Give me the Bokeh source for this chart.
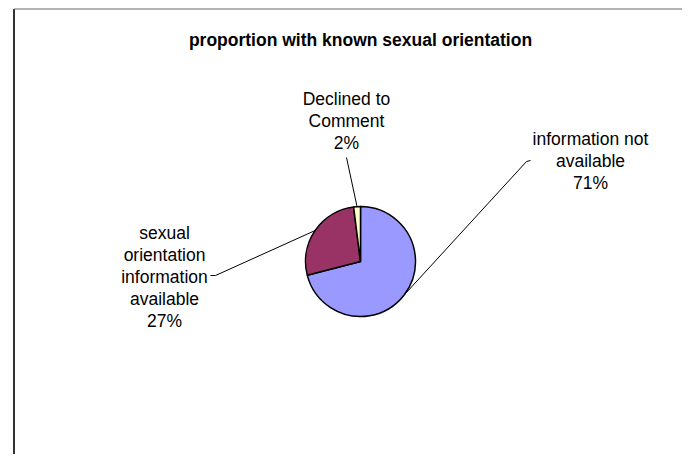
import math
from bokeh.plotting import figure
from bokeh.models import Range1d, ColumnDataSource
from bokeh.core.properties import value
from bokeh.embed import file_html
from bokeh.resources import INLINE

# ---- data ----
title_text = "proportion with known sexual orientation"
categories = ["information not available", "sexual orientation information available", "Declined to Comment"]
label_lines = ["information not\navailable", "sexual\norientation\ninformation\navailable", "Declined to\nComment"]
values = [71, 27, 2]
colors = ["#9999FF", "#993366", "#FFFFCC"]

# ---- layout (page pixel coordinates) ----
W, H = 682, 454
def py(y):  # page y -> data y
    return 462 - y

cx, cy, R = 360, 261, 55
label_pos = [(590, 160), (164, 276), (346, 120.5)]
# leader line elbows / ends (page coords)
leader_pts = [[(526, 161), (530, 160)], [(215, 275), (210, 275)], [(346, 157)]]

p = figure(width=W, height=H, output_backend="svg", toolbar_location=None,
           x_range=Range1d(0, W), y_range=Range1d(462 - H, 462),
           x_axis_location=None, y_axis_location=None, min_border=0,
           tools="")
p.grid.visible = False
p.outline_line_color = None
p.background_fill_color = "white"
p.border_fill_color = "white"

# chart area border (only left and top visible)
p.line(x=[13.5, 13.5], y=[py(462), py(8.5)], line_color="#333333", line_width=2)
p.line(x=[13.5, 690], y=[py(8.5), py(8.5)], line_color="#666666", line_width=1)

# pie
total = float(sum(values))
starts, ends, mids = [], [], []
a = math.pi / 2
for v in values:
    sweep = 2 * math.pi * v / total
    starts.append(a)
    ends.append(a - sweep)
    mids.append(a - sweep / 2)
    a -= sweep

src = ColumnDataSource(dict(x=[cx] * len(values), y=[py(cy)] * len(values),
                            start=starts, end=ends, color=colors, name=categories))
p.wedge(x="x", y="y", radius=R, radius_units="screen", start_angle="start",
        end_angle="end", direction="clock", fill_color="color",
        line_color="black", line_width=1.5, source=src)

# leader lines
for m, pts in zip(mids, leader_pts):
    ex = cx + R * math.cos(m)
    ey = cy - R * math.sin(m)
    xs = [ex] + [q[0] for q in pts]
    ys = [py(ey)] + [py(q[1]) for q in pts]
    p.line(x=xs, y=ys, line_color="black", line_width=1)

# labels
texts = [f"{l}\n{v}%" for l, v in zip(label_lines, values)]
p.text(x=[q[0] for q in label_pos], y=[py(q[1]) for q in label_pos], text=texts,
       text_align="center", text_baseline="middle", text_font=value("Liberation Sans"),
       text_font_size="17.5px", text_line_height=1.1, text_color="black")

# title
p.text(x=[360], y=[py(39)], text=[title_text], text_align="center", text_baseline="middle",
       text_font=value("Liberation Sans"), text_font_size="17.5px", text_font_style="bold",
       text_color="black")

open("out.html", "w").write(file_html(p, INLINE))
